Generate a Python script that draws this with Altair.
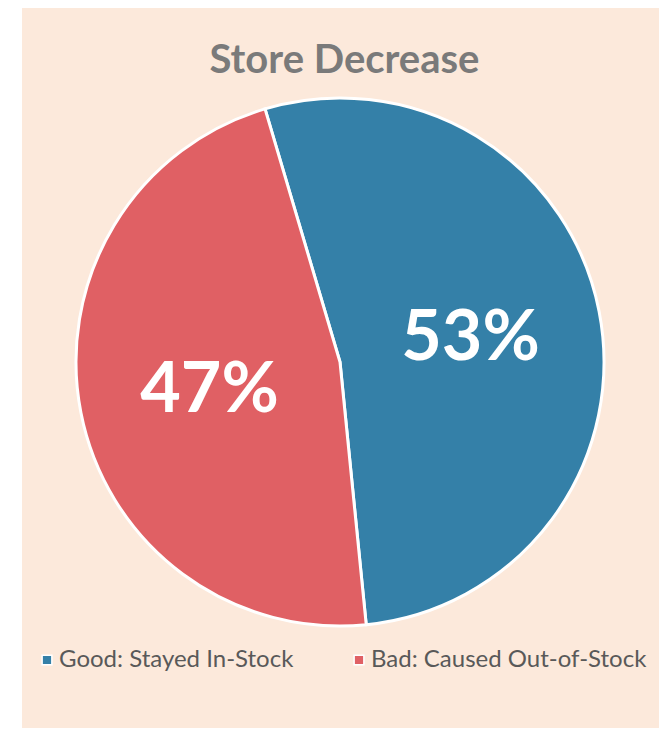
import math
import altair as alt
import pandas as pd

categories = ["Good: Stayed In-Stock", "Bad: Caused Out-of-Stock"]
values = [53, 47]
labels = ["53%", "47%"]
order_idx = [0, 1]
colors = ["#3480A8", "#E06064"]

df = pd.DataFrame({"category": categories, "value": values, "label": labels, "idx": order_idx})

W, H = 637, 720
start = 2 * math.pi - 0.288
theta_scale = alt.Scale(range=[start, start + 2 * math.pi])

cx, cy = 318, 354

bg = alt.Chart(alt.Data(values=[{"a": 1}])).mark_rect(color="#FCE9DB").encode(
    x=alt.value(0), x2=alt.value(W), y=alt.value(0), y2=alt.value(H)
)

base = alt.Chart(df).encode(
    theta=alt.Theta("value:Q", stack=True, scale=theta_scale),
    order=alt.Order("idx:Q"),
)

pie = base.mark_arc(x=cx, y=cy, outerRadius=264, stroke="white", strokeWidth=3).encode(
    color=alt.Color(
        "category:N",
        scale=alt.Scale(domain=categories, range=colors),
        sort=categories,
        legend=alt.Legend(
            title=None,
            orient="none",
            legendX=13,
            legendY=640,
            direction="horizontal",
            symbolType="square",
            symbolSize=95,
            symbolStrokeColor="white",
            symbolStrokeWidth=1.5,
            symbolOpacity=1,
            labelFont="Lato",
            labelFontSize=24,
            labelColor="#595959",
            labelOffset=0,
            labelLimit=500,
            columnPadding=53,
        ),
    )
)

text = base.mark_text(
    x=cx, y=cy, radius=133, font="Lato", fontWeight="bold", fontSize=70,
    color="white", baseline="middle", align="center", dy=3
).encode(text="label:N")

chart = (
    alt.layer(bg, pie, text)
    .properties(
        width=W,
        height=H,
        padding={"left": 14, "top": 0, "right": 0, "bottom": 0},
        autosize=alt.AutoSizeParams(type="none"),
        background="white",
        title=alt.TitleParams(
            "Store Decrease",
            font="Lato",
            fontSize=40,
            fontWeight="bold",
            color="#7A7A7A",
            anchor="middle",
            frame="group",
            offset=0,
            dx=4,
            dy=73,
        ),
    )
    .configure_view(strokeWidth=0)
)

chart.save("out.html", embed_options={"renderer": "svg", "actions": False})
